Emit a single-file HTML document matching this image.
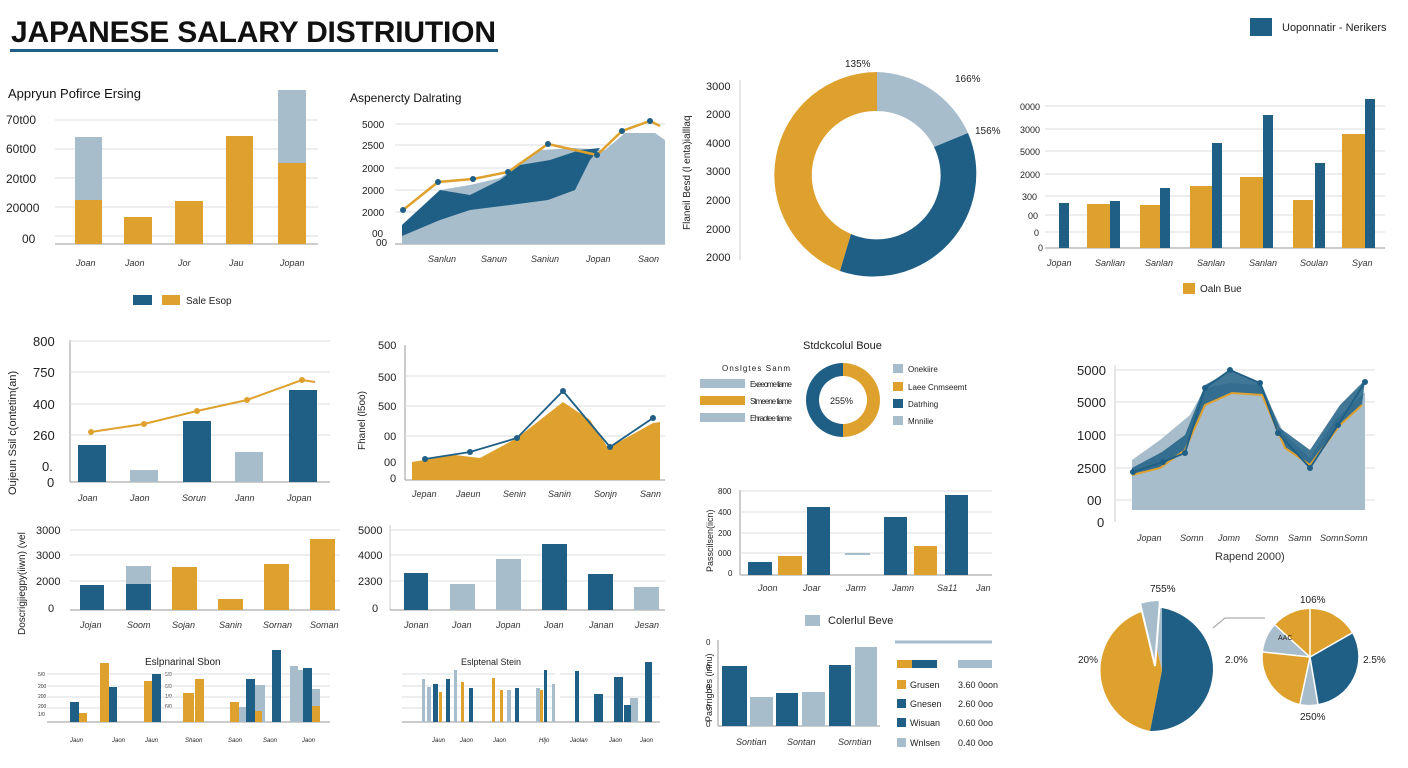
<!DOCTYPE html>
<html><head><meta charset="utf-8"><style>
html,body{margin:0;padding:0;background:#fff;}
svg{display:block;font-family:"Liberation Sans",sans-serif;}
.t{font-size:11px;fill:#222}
.s{font-size:9px;fill:#333;font-style:italic}
.y{font-size:12px;fill:#222}
.g{stroke:#d8dde2;stroke-width:1}
</style></head><body>
<svg width="1408" height="768" viewBox="0 0 1408 768">
<!-- Title -->
<text x="11" y="42" font-size="30" font-weight="bold" fill="#111" textLength="485">JAPANESE SALARY DISTRIUTION</text>
<rect x="10" y="49" width="488" height="3" fill="#1F5F85"/>
<rect x="1250" y="18" width="22" height="18" fill="#1F5F85"/>
<text x="1282" y="31" class="t">Uoponnatir - Nerikers</text>

<!-- Panel 1 -->
<text x="8" y="98" font-size="13" fill="#111">Appryun Pofirce Ersing</text>
<g class="y"><text x="6" y="124">70t00</text><text x="6" y="153">60t00</text><text x="6" y="183">20t00</text><text x="6" y="212">20000</text><text x="22" y="243">00</text></g>
<g class="g"><line x1="55" y1="120" x2="318" y2="120"/><line x1="55" y1="149" x2="318" y2="149"/><line x1="55" y1="178" x2="318" y2="178"/><line x1="55" y1="207" x2="318" y2="207"/><line x1="55" y1="236" x2="318" y2="236"/></g>
<line x1="55" y1="244" x2="318" y2="244" stroke="#999"/>
<rect x="75" y="137" width="27" height="63" fill="#A8BDCC"/><rect x="75" y="200" width="27" height="44" fill="#DFA12E"/>
<rect x="124" y="217" width="28" height="27" fill="#DFA12E"/>
<rect x="175" y="201" width="28" height="43" fill="#DFA12E"/>
<rect x="226" y="136" width="27" height="108" fill="#DFA12E"/>
<rect x="278" y="90" width="28" height="73" fill="#A8BDCC"/><rect x="278" y="163" width="28" height="81" fill="#DFA12E"/>
<g class="s"><text x="76" y="266">Joan</text><text x="125" y="266">Jaon</text><text x="178" y="266">Jor</text><text x="229" y="266">Jau</text><text x="280" y="266">Jopan</text></g>
<rect x="133" y="295" width="19" height="10" fill="#1F5F85"/><rect x="162" y="295" width="18" height="10" fill="#DFA12E"/>
<text x="186" y="304" font-size="10" fill="#222">Sale Esop</text>

<!-- Panel 2 -->
<text x="350" y="102" font-size="12" fill="#111">Aspenercty Dalrating</text>
<g font-size="10" fill="#222"><text x="362" y="128">5000</text><text x="362" y="149">2500</text><text x="362" y="172">2000</text><text x="362" y="194">2000</text><text x="362" y="216">2000</text><text x="372" y="237">00</text><text x="376" y="246">00</text></g>
<g class="g"><line x1="395" y1="124" x2="665" y2="124"/><line x1="395" y1="145" x2="665" y2="145"/><line x1="395" y1="168" x2="665" y2="168"/><line x1="395" y1="190" x2="665" y2="190"/><line x1="395" y1="212" x2="665" y2="212"/></g>
<line x1="395" y1="244" x2="665" y2="244" stroke="#999"/>
<polygon points="402,244 402,225 440,190 470,185 500,178 540,150 575,148 605,150 625,133 655,133 665,140 665,244" fill="#A8BDCC"/>
<polygon points="402,225 440,190 470,195 500,180 520,165 550,160 580,150 600,148 590,160 575,190 548,200 510,205 470,210 440,220 402,236" fill="#1F5F85"/>
<polyline points="403,210 438,182 473,179 508,172 548,144 597,155 622,131 650,121 660,126" fill="none" stroke="#DFA12E" stroke-width="2.5"/>
<g fill="#1F5F85"><circle cx="403" cy="210" r="3"/><circle cx="438" cy="182" r="3"/><circle cx="473" cy="179" r="3"/><circle cx="508" cy="172" r="3"/><circle cx="548" cy="144" r="3"/><circle cx="597" cy="155" r="3"/><circle cx="622" cy="131" r="3"/><circle cx="650" cy="121" r="3"/></g>
<g class="s"><text x="428" y="262">Sanlun</text><text x="481" y="262">Sanun</text><text x="531" y="262">Saniun</text><text x="586" y="262">Jopan</text><text x="638" y="262">Saon</text></g>

<!-- Panel 3 donut -->
<text transform="translate(690,230) rotate(-90)" font-size="10" fill="#222">Flaneil Besd (l enta)ialllaq</text>
<g font-size="11" fill="#222"><text x="706" y="90">3000</text><text x="706" y="118">2000</text><text x="706" y="147">4000</text><text x="706" y="175">3000</text><text x="706" y="204">2000</text><text x="706" y="233">2000</text><text x="706" y="261">2000</text></g>
<line x1="740" y1="80" x2="740" y2="260" stroke="#ccc"/>
<path d="M877,72 A103,103 0 0 0 840,271 L851,234 A64,64 0 0 1 877,111 Z" fill="#DFA12E"/>
<path d="M877,72 A103,103 0 0 1 968,133 L934,147 A64,64 0 0 0 877,111 Z" fill="#A8BDCC"/>
<path d="M968,133 A103,103 0 0 1 840,271 L851,234 A64,64 0 0 0 934,147 Z" fill="#1F5F85"/>
<g font-size="10" fill="#222"><text x="845" y="67">135%</text><text x="955" y="82">166%</text><text x="975" y="134">156%</text></g>

<!-- Panel 4 -->
<g font-size="9" fill="#222"><text x="1020" y="110">0000</text><text x="1020" y="133">3000</text><text x="1020" y="155">5000</text><text x="1020" y="178">2000</text><text x="1022" y="200">300</text><text x="1028" y="219">00</text><text x="1034" y="236">0</text><text x="1038" y="251">0</text></g>
<g class="g"><line x1="1045" y1="106" x2="1385" y2="106"/><line x1="1045" y1="129" x2="1385" y2="129"/><line x1="1045" y1="151" x2="1385" y2="151"/><line x1="1045" y1="174" x2="1385" y2="174"/><line x1="1045" y1="196" x2="1385" y2="196"/><line x1="1045" y1="215" x2="1385" y2="215"/><line x1="1045" y1="232" x2="1385" y2="232"/></g>
<line x1="1045" y1="248" x2="1385" y2="248" stroke="#999"/>
<g fill="#1F5F85"><rect x="1059" y="203" width="10" height="45"/><rect x="1110" y="201" width="10" height="47"/><rect x="1160" y="188" width="10" height="60"/><rect x="1212" y="143" width="10" height="105"/><rect x="1263" y="115" width="10" height="133"/><rect x="1315" y="163" width="10" height="85"/><rect x="1365" y="99" width="10" height="149"/></g>
<g fill="#DFA12E"><rect x="1087" y="204" width="23" height="44"/><rect x="1140" y="205" width="20" height="43"/><rect x="1190" y="186" width="22" height="62"/><rect x="1240" y="177" width="23" height="71"/><rect x="1293" y="200" width="20" height="48"/><rect x="1342" y="134" width="23" height="114"/></g>
<g class="s"><text x="1047" y="266">Jopan</text><text x="1095" y="266">Sanlian</text><text x="1145" y="266">Sanlan</text><text x="1197" y="266">Sanlan</text><text x="1249" y="266">Sanlan</text><text x="1300" y="266">Soulan</text><text x="1352" y="266">Syan</text></g>
<rect x="1183" y="283" width="12" height="11" fill="#DFA12E"/><text x="1200" y="292" font-size="10" fill="#222">Oaln Bue</text>

<!-- Row2 A -->
<text transform="translate(16,495) rotate(-90)" font-size="11" fill="#222">Oujeun Ssil c(ontetim(an)</text>
<g font-size="13" fill="#222"><text x="33" y="346">800</text><text x="33" y="377">750</text><text x="33" y="409">400</text><text x="33" y="440">260</text><text x="42" y="471">0.</text><text x="47" y="487">0</text></g>
<line x1="70" y1="340" x2="70" y2="482" stroke="#999"/>
<g class="g"><line x1="70" y1="341" x2="330" y2="341"/><line x1="70" y1="372" x2="330" y2="372"/><line x1="70" y1="404" x2="330" y2="404"/><line x1="70" y1="435" x2="330" y2="435"/></g>
<line x1="70" y1="482" x2="330" y2="482" stroke="#999"/>
<rect x="78" y="445" width="28" height="37" fill="#1F5F85"/><rect x="130" y="470" width="28" height="12" fill="#A8BDCC"/><rect x="183" y="421" width="28" height="61" fill="#1F5F85"/><rect x="235" y="452" width="28" height="30" fill="#A8BDCC"/><rect x="289" y="390" width="28" height="92" fill="#1F5F85"/>
<polyline points="91,432 144,424 197,411 247,400 302,380 315,382" fill="none" stroke="#DFA12E" stroke-width="2"/>
<g fill="#DFA12E"><circle cx="91" cy="432" r="3"/><circle cx="144" cy="424" r="3"/><circle cx="197" cy="411" r="3"/><circle cx="247" cy="400" r="3"/><circle cx="302" cy="380" r="3"/></g>
<g class="s" font-size="10"><text x="78" y="501">Joan</text><text x="130" y="501">Jaon</text><text x="182" y="501">Sorun</text><text x="235" y="501">Jann</text><text x="287" y="501">Jopan</text></g>

<!-- Row2 B -->
<text transform="translate(365,450) rotate(-90)" font-size="10" fill="#222">Fhanel (l5oo)</text>
<g font-size="11" fill="#222"><text x="378" y="349">500</text><text x="378" y="381">500</text><text x="378" y="410">500</text><text x="384" y="440">00</text><text x="384" y="466">00</text><text x="390" y="482">0</text></g>
<line x1="405" y1="345" x2="405" y2="480" stroke="#999"/>
<g class="g"><line x1="405" y1="376" x2="665" y2="376"/><line x1="405" y1="406" x2="665" y2="406"/><line x1="405" y1="436" x2="665" y2="436"/></g>
<line x1="405" y1="480" x2="665" y2="480" stroke="#999"/>
<polygon points="412,480 412,462 455,455 480,458 517,438 563,402 590,420 608,448 653,423 660,422 660,480" fill="#DFA12E"/>
<polyline points="425,459 470,452 517,438 563,391 610,447 653,418" fill="none" stroke="#1F5F85" stroke-width="1.8"/>
<g fill="#1F5F85"><circle cx="425" cy="459" r="3"/><circle cx="470" cy="452" r="3"/><circle cx="517" cy="438" r="3"/><circle cx="563" cy="391" r="3"/><circle cx="610" cy="447" r="3"/><circle cx="653" cy="418" r="3"/></g>
<g class="s"><text x="412" y="497">Jepan</text><text x="456" y="497">Jaeun</text><text x="503" y="497">Senin</text><text x="548" y="497">Sanin</text><text x="594" y="497">Sonjn</text><text x="640" y="497">Sann</text></g>

<!-- Row2 C small donut -->
<text x="803" y="349" font-size="11" fill="#222">Stdckcolul Boue</text>
<path d="M843,363 A37,37 0 0 1 843,437 L843,424 A24,24 0 0 0 843,376 Z" fill="#DFA12E"/>
<path d="M843,363 A37,37 0 0 0 843,437 L843,424 A24,24 0 0 1 843,376 Z" fill="#1F5F85"/>
<text x="830" y="404" font-size="9" fill="#222">255%</text>
<g font-size="8" fill="#222">
<text x="722" y="371" textLength="68">Onslgtes  Sanm</text>
<rect x="700" y="379" width="45" height="9" fill="#A8BDCC"/><text x="750" y="387" textLength="42">Exeeome  tiame</text>
<rect x="700" y="396" width="45" height="9" fill="#DFA12E"/><text x="750" y="404" textLength="42">Stmeene  tiame</text>
<rect x="700" y="413" width="45" height="9" fill="#A8BDCC"/><text x="750" y="421" textLength="42">Ehraotee  tiame</text>
<rect x="893" y="364" width="10" height="9" fill="#A8BDCC"/><text x="908" y="372">Onekiire</text>
<rect x="893" y="382" width="10" height="9" fill="#DFA12E"/><text x="908" y="390">Laee Cnmseemt</text>
<rect x="893" y="399" width="10" height="9" fill="#1F5F85"/><text x="908" y="407">Datrhing</text>
<rect x="893" y="416" width="10" height="9" fill="#A8BDCC"/><text x="908" y="424">Mnnilie</text>
</g>

<!-- Row2 D -->
<g font-size="13" fill="#222"><text x="1077" y="375">5000</text><text x="1077" y="407">5000</text><text x="1077" y="440">1000</text><text x="1077" y="473">2500</text><text x="1087" y="505">00</text><text x="1097" y="527">0</text></g>
<line x1="1115" y1="365" x2="1115" y2="522" stroke="#ccc"/>
<g class="g"><line x1="1115" y1="370" x2="1375" y2="370"/><line x1="1115" y1="402" x2="1375" y2="402"/><line x1="1115" y1="435" x2="1375" y2="435"/><line x1="1115" y1="468" x2="1375" y2="468"/><line x1="1115" y1="500" x2="1375" y2="500"/></g>
<polygon points="1132,510 1132,460 1160,440 1190,415 1205,388 1230,383 1260,385 1285,435 1310,458 1335,420 1365,392 1365,510" fill="#A8BDCC"/>
<polygon points="1132,468 1162,452 1185,435 1205,385 1232,370 1262,385 1280,428 1310,450 1340,405 1365,380 1362,405 1340,425 1310,465 1285,448 1262,395 1232,393 1205,405 1185,450 1160,468 1132,475" fill="#1F5F85" opacity="0.85"/>
<polyline points="1132,475 1160,468 1185,450 1205,405 1232,393 1262,395 1285,448 1310,465 1340,425 1362,405" fill="none" stroke="#DFA12E" stroke-width="2"/>
<polyline points="1133,472 1163,462 1185,453 1205,388 1230,370 1260,383 1278,433 1310,468 1338,425 1365,382" fill="none" stroke="#1F5F85" stroke-width="1.8"/>
<g fill="#1F5F85"><circle cx="1133" cy="472" r="3"/><circle cx="1163" cy="462" r="3"/><circle cx="1185" cy="453" r="3"/><circle cx="1205" cy="388" r="3"/><circle cx="1230" cy="370" r="3"/><circle cx="1260" cy="383" r="3"/><circle cx="1278" cy="433" r="3"/><circle cx="1310" cy="468" r="3"/><circle cx="1338" cy="425" r="3"/><circle cx="1365" cy="382" r="3"/></g>
<g class="s" font-size="10"><text x="1137" y="541">Jopan</text><text x="1180" y="541">Somn</text><text x="1218" y="541">Jomn</text><text x="1255" y="541">Somn</text><text x="1288" y="541">Samn</text><text x="1320" y="541">Somn</text><text x="1344" y="541">Somn</text></g>
<text x="1215" y="560" font-size="11" fill="#333">Rapend 2000)</text>

<!-- Row3 left -->
<text transform="translate(25,635) rotate(-90)" font-size="10" fill="#222">Doscrigjiegpy(iiwn) (vel</text>
<g font-size="11" fill="#222"><text x="36" y="534">3000</text><text x="36" y="559">3000</text><text x="36" y="585">2000</text><text x="48" y="612">0</text></g>
<g class="g"><line x1="70" y1="530" x2="340" y2="530"/><line x1="70" y1="555" x2="340" y2="555"/><line x1="70" y1="581" x2="340" y2="581"/></g>
<line x1="70" y1="610" x2="340" y2="610" stroke="#999"/>
<rect x="80" y="585" width="24" height="25" fill="#1F5F85"/>
<rect x="126" y="566" width="25" height="18" fill="#A8BDCC"/><rect x="126" y="584" width="25" height="26" fill="#1F5F85"/>
<g fill="#DFA12E"><rect x="172" y="567" width="25" height="43"/><rect x="218" y="599" width="25" height="11"/><rect x="264" y="564" width="25" height="46"/><rect x="310" y="539" width="25" height="71"/></g>
<g class="s"><text x="80" y="628">Jojan</text><text x="127" y="628">Soom</text><text x="172" y="628">Sojan</text><text x="219" y="628">Sanin</text><text x="263" y="628">Sornan</text><text x="310" y="628">Soman</text></g>

<!-- Row3 mid -->
<g font-size="11" fill="#222"><text x="358" y="534">5000</text><text x="358" y="559">4000</text><text x="358" y="585">2300</text><text x="372" y="612">0</text></g>
<line x1="390" y1="525" x2="390" y2="610" stroke="#ccc"/>
<g class="g"><line x1="390" y1="530" x2="665" y2="530"/><line x1="390" y1="555" x2="665" y2="555"/><line x1="390" y1="581" x2="665" y2="581"/></g>
<line x1="390" y1="610" x2="665" y2="610" stroke="#999"/>
<rect x="404" y="573" width="24" height="37" fill="#1F5F85"/><rect x="450" y="584" width="25" height="26" fill="#A8BDCC"/><rect x="496" y="559" width="25" height="51" fill="#A8BDCC"/><rect x="542" y="544" width="25" height="66" fill="#1F5F85"/><rect x="588" y="574" width="25" height="36" fill="#1F5F85"/><rect x="634" y="587" width="25" height="23" fill="#A8BDCC"/>
<g class="s"><text x="404" y="628">Jonan</text><text x="452" y="628">Joan</text><text x="496" y="628">Jopan</text><text x="544" y="628">Joan</text><text x="589" y="628">Janan</text><text x="635" y="628">Jesan</text></g>

<!-- Row3 right -->
<text transform="translate(713,572) rotate(-90)" font-size="9" fill="#222">Passcilsen(iicn)</text>
<g font-size="8" fill="#222"><text x="718" y="494">800</text><text x="718" y="515">400</text><text x="718" y="536">200</text><text x="718" y="556">000</text><text x="728" y="576">0</text></g>
<line x1="740" y1="490" x2="740" y2="575" stroke="#999"/>
<g class="g"><line x1="740" y1="491" x2="992" y2="491"/><line x1="740" y1="512" x2="992" y2="512"/><line x1="740" y1="533" x2="992" y2="533"/><line x1="740" y1="553" x2="992" y2="553"/></g>
<line x1="740" y1="575" x2="992" y2="575" stroke="#999"/>
<rect x="748" y="562" width="24" height="13" fill="#1F5F85"/><rect x="778" y="556" width="24" height="19" fill="#DFA12E"/><rect x="807" y="507" width="23" height="68" fill="#1F5F85"/><rect x="845" y="553" width="25" height="2" fill="#A8BDCC"/><rect x="884" y="517" width="23" height="58" fill="#1F5F85"/><rect x="914" y="546" width="23" height="29" fill="#DFA12E"/><rect x="945" y="495" width="23" height="80" fill="#1F5F85"/>
<g class="s"><text x="758" y="591">Joon</text><text x="803" y="591">Joar</text><text x="846" y="591">Jarm</text><text x="892" y="591">Jamn</text><text x="937" y="591">Sa11</text><text x="976" y="591">Jan</text></g>
<rect x="805" y="615" width="15" height="11" fill="#A8BDCC"/><text x="828" y="624" font-size="11" fill="#222">Colerlul Beve</text>

<!-- Bottom left minis -->
<text x="145" y="665" font-size="10" fill="#222">Eslpnarinal Sbon</text>
<g font-size="5" fill="#333"><text x="38" y="676">5/0</text><text x="38" y="688">200</text><text x="38" y="698">200</text><text x="38" y="708">200</text><text x="38" y="716">1/0</text><text x="165" y="676">5/0</text><text x="165" y="688">6/0</text><text x="165" y="698">1/0</text><text x="165" y="708">6/0</text></g>
<g class="g"><line x1="47" y1="674" x2="250" y2="674"/><line x1="47" y1="686" x2="250" y2="686"/><line x1="47" y1="697" x2="250" y2="697"/><line x1="47" y1="708" x2="250" y2="708"/><line x1="172" y1="674" x2="330" y2="674"/><line x1="172" y1="686" x2="330" y2="686"/><line x1="172" y1="697" x2="330" y2="697"/></g>
<line x1="47" y1="722" x2="330" y2="722" stroke="#999"/>
<rect x="70" y="702" width="9" height="20" fill="#1F5F85"/><rect x="79" y="713" width="8" height="9" fill="#DFA12E"/>
<rect x="100" y="663" width="9" height="59" fill="#DFA12E"/><rect x="109" y="687" width="8" height="35" fill="#1F5F85"/>
<rect x="144" y="681" width="8" height="41" fill="#DFA12E"/><rect x="152" y="674" width="9" height="48" fill="#1F5F85"/>
<rect x="183" y="693" width="11" height="29" fill="#DFA12E"/><rect x="195" y="679" width="9" height="43" fill="#DFA12E"/>
<rect x="230" y="702" width="9" height="20" fill="#DFA12E"/><rect x="239" y="707" width="7" height="15" fill="#A8BDCC"/><rect x="246" y="679" width="9" height="43" fill="#1F5F85"/><rect x="255" y="685" width="10" height="37" fill="#A8BDCC"/><rect x="255" y="711" width="7" height="11" fill="#DFA12E"/><rect x="272" y="650" width="9" height="72" fill="#1F5F85"/>
<rect x="290" y="666" width="8" height="56" fill="#A8BDCC"/><rect x="298" y="670" width="5" height="52" fill="#A8BDCC"/><rect x="303" y="668" width="9" height="54" fill="#1F5F85"/><rect x="312" y="689" width="8" height="33" fill="#A8BDCC"/><rect x="312" y="706" width="8" height="16" fill="#DFA12E"/>
<g font-size="6" fill="#222" font-style="italic"><text x="70" y="742">Jaun</text><text x="112" y="742">Jaon</text><text x="145" y="742">Jaun</text><text x="185" y="742">Shaon</text><text x="228" y="742">Saon</text><text x="263" y="742">Saon</text><text x="302" y="742">Jaon</text></g>

<!-- Bottom mid minis -->
<text x="461" y="665" font-size="9" fill="#222">Eslptenal Stein</text>
<g class="g"><line x1="402" y1="674" x2="555" y2="674"/><line x1="402" y1="686" x2="555" y2="686"/><line x1="402" y1="697" x2="555" y2="697"/><line x1="402" y1="708" x2="555" y2="708"/><line x1="560" y1="674" x2="660" y2="674"/><line x1="560" y1="697" x2="660" y2="697"/></g>
<line x1="402" y1="722" x2="660" y2="722" stroke="#999"/>
<g fill="#A8BDCC"><rect x="422" y="679" width="3" height="43"/><rect x="427" y="687" width="4" height="35"/><rect x="454" y="670" width="3" height="52"/><rect x="507" y="690" width="4" height="32"/><rect x="552" y="684" width="3" height="38"/><rect x="536" y="688" width="4" height="34"/><rect x="630" y="698" width="8" height="24"/></g>
<g fill="#1F5F85"><rect x="433" y="684" width="5" height="38"/><rect x="446" y="679" width="4" height="43"/><rect x="469" y="688" width="4" height="34"/><rect x="515" y="688" width="4" height="34"/><rect x="544" y="670" width="3" height="52"/><rect x="594" y="694" width="9" height="28"/><rect x="614" y="677" width="9" height="45"/><rect x="624" y="705" width="7" height="17"/><rect x="645" y="662" width="7" height="60"/><rect x="575" y="671" width="4" height="51"/></g>
<g fill="#DFA12E"><rect x="439" y="692" width="3" height="30"/><rect x="461" y="682" width="3" height="40"/><rect x="492" y="678" width="3" height="44"/><rect x="500" y="690" width="3" height="32"/><rect x="540" y="690" width="3" height="32"/></g>
<g font-size="6" fill="#222" font-style="italic"><text x="432" y="742">Jaun</text><text x="460" y="742">Jaon</text><text x="493" y="742">Jaon</text><text x="539" y="742">Hljo</text><text x="570" y="742">Jaolan</text><text x="609" y="742">Jaon</text><text x="640" y="742">Jaon</text></g>

<!-- Bottom right bar -->
<text transform="translate(712,722) rotate(-90)" font-size="9" fill="#222">Pasrrigbes (innu)</text>
<g font-size="8" fill="#222"><text x="706" y="645">0</text><text x="706" y="670">0</text><text x="706" y="690">0</text><text x="706" y="710">0</text><text x="706" y="727">0</text></g>
<line x1="718" y1="640" x2="718" y2="726" stroke="#999"/>
<line x1="718" y1="726" x2="880" y2="726" stroke="#999"/>
<rect x="722" y="666" width="25" height="60" fill="#1F5F85"/><rect x="750" y="697" width="23" height="29" fill="#A8BDCC"/><rect x="776" y="693" width="22" height="33" fill="#1F5F85"/><rect x="802" y="692" width="23" height="34" fill="#A8BDCC"/><rect x="829" y="665" width="22" height="61" fill="#1F5F85"/><rect x="855" y="647" width="22" height="79" fill="#A8BDCC"/>
<g class="s"><text x="736" y="745">Sontian</text><text x="787" y="745">Sontan</text><text x="838" y="745">Sorntian</text></g>
<line x1="895" y1="642" x2="992" y2="642" stroke="#A8BDCC" stroke-width="3"/>
<rect x="897" y="660" width="15" height="8" fill="#DFA12E"/><rect x="912" y="660" width="25" height="8" fill="#1F5F85"/><rect x="958" y="660" width="34" height="8" fill="#A8BDCC"/>
<g font-size="9" fill="#222">
<rect x="897" y="680" width="9" height="9" fill="#DFA12E"/><text x="910" y="688">Grusen</text><text x="958" y="688">3.60 0oon</text>
<rect x="897" y="699" width="9" height="9" fill="#1F5F85"/><text x="910" y="707">Gnesen</text><text x="958" y="707">2.60 0oo</text>
<rect x="897" y="718" width="9" height="9" fill="#1F5F85"/><text x="910" y="726">Wisuan</text><text x="958" y="726">0.60 0oo</text>
<rect x="897" y="738" width="9" height="9" fill="#A8BDCC"/><text x="910" y="746">Wnlsen</text><text x="958" y="746">0.40 0oo</text>
</g>

<!-- Bottom right pies -->
<path d="M1162,670 L1162,608 A62,62 0 0 1 1150,731 Z" fill="#1F5F85"/>
<path d="M1162,670 L1150,731 A62,62 0 0 1 1148,610 Z" fill="#DFA12E"/>
<path d="M1162,670 L1148,610 A62,62 0 0 1 1162,608 Z" fill="#A8BDCC"/>
<path d="M1155,666 L1140,603 A64,64 0 0 1 1160,600 Z" fill="#A8BDCC" stroke="#fff" stroke-width="2"/>
<text x="1150" y="592" font-size="10" fill="#222">755%</text>
<text x="1078" y="663" font-size="10" fill="#222">20%</text>
<text x="1225" y="663" font-size="10" fill="#222">2.0%</text>
<polyline points="1213,628 1225,618 1265,618" fill="none" stroke="#999"/>
<path d="M1310,657 L1310,609 A48,48 0 0 1 1352,633 Z" fill="#DFA12E"/>
<path d="M1310,657 L1352,633 A48,48 0 0 1 1318,704 Z" fill="#1F5F85"/>
<path d="M1310,657 L1318,704 A48,48 0 0 1 1300,704 Z" fill="#A8BDCC"/>
<path d="M1310,657 L1300,704 A48,48 0 0 1 1263,652 Z" fill="#DFA12E"/>
<path d="M1310,657 L1263,652 A48,48 0 0 1 1275,625 Z" fill="#A8BDCC"/>
<path d="M1310,657 L1275,625 A48,48 0 0 1 1310,609 Z" fill="#DFA12E"/>
<g stroke="#fff" stroke-width="1.5" fill="none"><line x1="1310" y1="657" x2="1310" y2="609"/><line x1="1310" y1="657" x2="1352" y2="633"/><line x1="1310" y1="657" x2="1318" y2="704"/><line x1="1310" y1="657" x2="1300" y2="704"/><line x1="1310" y1="657" x2="1263" y2="652"/><line x1="1310" y1="657" x2="1275" y2="625"/></g>
<text x="1278" y="640" font-size="7" fill="#222">AAC</text>
<text x="1300" y="603" font-size="10" fill="#222">106%</text>
<text x="1363" y="663" font-size="10" fill="#222">2.5%</text>
<text x="1300" y="720" font-size="10" fill="#222">250%</text>
</svg>
</body></html>
